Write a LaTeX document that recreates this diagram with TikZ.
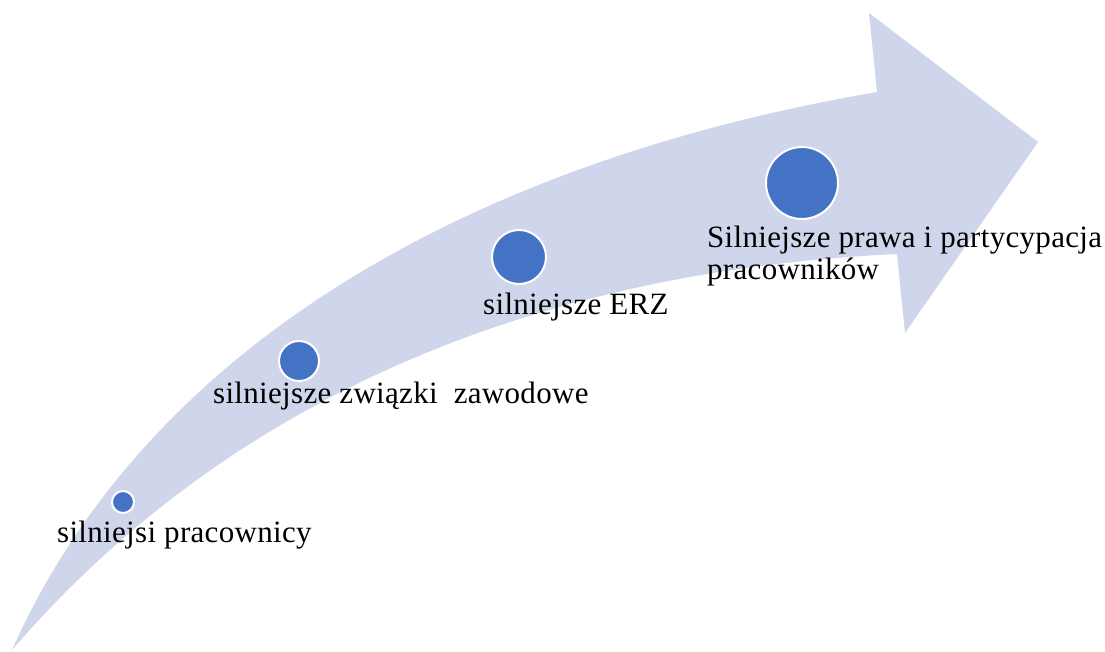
\documentclass[tikz,border=0pt]{standalone}
\usepackage{fontspec}
\setmainfont{Liberation Serif}[LetterSpace=1]
\definecolor{band}{HTML}{CFD5EA}
\definecolor{dot}{HTML}{4472C4}
\begin{document}
\begin{tikzpicture}[x=1pt,y=-1pt,
  dotnode/.style={circle,fill=dot,draw=white,line width=2pt,inner sep=0pt},
  lbl/.style={anchor=base west,inner sep=0pt,font=\fontsize{31}{33}\selectfont,text=black}]
\useasboundingbox (0,0) rectangle (1105,651);
\fill[band] (12,650) .. controls (150,340) and (480,160) .. (877,92)
  -- (869,13) -- (1038,142) -- (905,333) -- (897,254)
  .. controls (600,268) and (262,360) .. (12,650) -- cycle;
\node[dotnode,minimum size=22pt] (d1) at (123,502) {};
\node[dotnode,minimum size=40pt] (d2) at (299,361) {};
\node[dotnode,minimum size=54pt] (d3) at (519,257) {};
\node[dotnode,minimum size=72pt] (d4) at (802,183) {};
\node[lbl] (t1) at (57,542) {silniejsi pracownicy};
\node[lbl] (t2) at (213,403) {silniejsze związki\ \ zawodowe};
\node[lbl] (t3) at (483,314) {silniejsze ERZ};
\node[lbl] (t4) at (707,247) {Silniejsze prawa i partycypacja};
\node[lbl] (t5) at (707,279) {pracowników};
\end{tikzpicture}
\end{document}
